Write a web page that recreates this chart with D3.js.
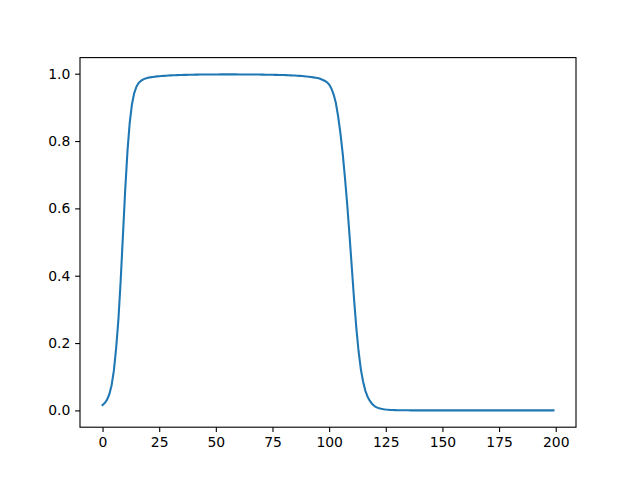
<!DOCTYPE html>
<html>
<head>
<meta charset="utf-8">
<script src="https://cdn.jsdelivr.net/npm/d3@7"></script>
<style>
  body { margin: 0; background: #fff; }
  text { font-family: "DejaVu Sans", sans-serif; }
</style>
</head>
<body>
<div id="container"></div>
<script>
let width = 640;
let height = 480;
let margin = {left: 80, right: 64, top: 57.6, bottom: 52.8};

// values, one per step 0..199
let yValues = [
  0.016, 0.022, 0.032, 0.048, 0.075, 0.118, 0.185, 0.270, 0.385, 0.520,
  0.655, 0.770, 0.855, 0.910, 0.943, 0.962, 0.973, 0.979, 0.983, 0.986,
  0.988, 0.989, 0.990, 0.991, 0.992, 0.9925, 0.993, 0.9935, 0.994, 0.9945,
  0.995, 0.9953, 0.9956, 0.9958, 0.996, 0.9962, 0.9964, 0.9966, 0.9968, 0.997,
  0.9971, 0.9972, 0.9973, 0.9974, 0.9975, 0.9976, 0.9976, 0.9977, 0.9977, 0.9978,
  0.9978, 0.9978, 0.9979, 0.9979, 0.9979, 0.9979, 0.9979, 0.9979, 0.9979, 0.9979,
  0.9978, 0.9978, 0.9978, 0.9977, 0.9977, 0.9976, 0.9976, 0.9975, 0.9975, 0.9974,
  0.9973, 0.9972, 0.9971, 0.997, 0.9969, 0.9968, 0.9966, 0.9965, 0.9963, 0.9961,
  0.9959, 0.9957, 0.9954, 0.9951, 0.9948, 0.9944, 0.994, 0.9935, 0.993, 0.9924,
  0.9917, 0.991, 0.990, 0.989, 0.988, 0.987, 0.985, 0.982, 0.979, 0.975,
  0.968, 0.956, 0.938, 0.912, 0.872, 0.822, 0.762, 0.690, 0.610, 0.520,
  0.425, 0.330, 0.245, 0.175, 0.122, 0.085, 0.058, 0.040, 0.028, 0.019,
  0.013, 0.009, 0.0065, 0.0047, 0.0034, 0.0025, 0.0019, 0.0014, 0.0011, 0.0009,
  0.0007, 0.0006, 0.0005, 0.0004, 0.0003, 0.00025, 0.0002, 0.00017, 0.00014, 0.00012,
  0.0001, 0.00008, 0.00007, 0.00006, 0.00005, 0.00004, 0.00004, 0.00003, 0.00003, 0.00002,
  0.00002, 0.00002, 0.00002, 0.00002, 0.00002, 0.00001, 0.00001, 0.00001, 0.00001, 0.00001,
  0.00001, 0.00001, 0.00001, 0.00001, 0.00001, 0.00001, 0.00001, 0.00001, 0.00001, 0.00001,
  0.00001, 0.00001, 0.00001, 0.00001, 0.00001, 0.00001, 0.00001, 0.00001, 0.00001, 0.00001,
  0.00001, 0.00001, 0.00001, 0.00001, 0.00001, 0.00001, 0.00001, 0.00001, 0.00001, 0.00001,
  0.00001, 0.00001, 0.00001, 0.00001, 0.00001, 0.00001, 0.00001, 0.00001, 0.00001, 0.00001
];
let xTicks = [0, 25, 50, 75, 100, 125, 150, 175, 200];
let yTicks = [0.0, 0.2, 0.4, 0.6, 0.8, 1.0];

let data = yValues.map(function (v, i) { return {x: i, y: v}; });

let svg = d3.select("#container")
  .append("svg")
  .attr("width", width)
  .attr("height", height);

// matplotlib style 5% padding
let xMin = 0, xMax = data.length - 1;
let xPad = (xMax - xMin) * 0.05;
let yMin = d3.min(yValues), yMax = d3.max(yValues);
let yPad = (yMax - yMin) * 0.05;

let x = d3.scaleLinear()
  .domain([xMin - xPad, xMax + xPad])
  .range([margin.left, width - margin.right]);

let y = d3.scaleLinear()
  .domain([yMin - yPad, yMax + yPad])
  .range([height - margin.bottom, margin.top]);

let line = d3.line()
  .x(function (d) { return x(d.x); })
  .y(function (d) { return y(d.y); });

svg.append("path")
  .datum(data)
  .attr("fill", "none")
  .attr("stroke", "#1f77b4")
  .attr("stroke-width", 2.08)
  .attr("stroke-linejoin", "round")
  .attr("stroke-linecap", "square")
  .attr("d", line);

let xAxis = svg.append("g")
  .attr("transform", `translate(0,${height - margin.bottom})`)
  .call(d3.axisBottom(x).tickValues(xTicks).tickSize(4.86).tickPadding(4.86).tickFormat(d3.format("d")));

let yAxis = svg.append("g")
  .attr("transform", `translate(${margin.left},0)`)
  .call(d3.axisLeft(y).tickValues(yTicks).tickSize(4.86).tickPadding(4.86).tickFormat(d3.format(".1f")));

[xAxis, yAxis].forEach(function (g) {
  g.select(".domain").remove();
  g.selectAll(".tick line").attr("stroke", "#000").attr("stroke-width", 1.11);
  g.selectAll(".tick text")
    .attr("fill", "#000")
    .style("font-size", "13.9px")
    .style("font-family", "DejaVu Sans");
});

// frame
svg.append("rect")
  .attr("x", margin.left)
  .attr("y", margin.top)
  .attr("width", width - margin.left - margin.right)
  .attr("height", height - margin.top - margin.bottom)
  .attr("fill", "none")
  .attr("stroke", "#000")
  .attr("stroke-width", 1.11);
</script>
</body>
</html>
